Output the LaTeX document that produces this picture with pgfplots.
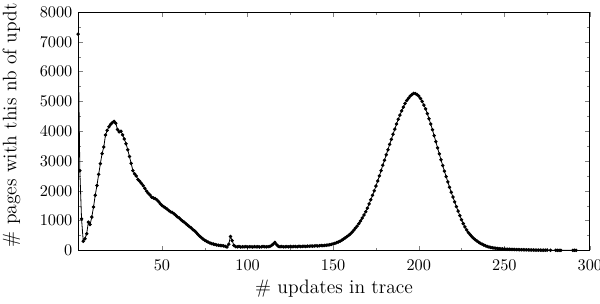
\documentclass[border=0pt]{standalone}
\usepackage{pgfplots}
\pgfplotsset{compat=1.18}
\usetikzlibrary{calc}
\begin{document}
\begin{tikzpicture}
\begin{axis}[
  name=ax,
  scale only axis,
  width=314.5pt, height=146.5pt,
  xmin=1, xmax=300, ymin=0, ymax=8000,
  xtick={50,100,150,200,250,300},
  ytick={0,1000,2000,3000,4000,5000,6000,7000,8000},
  minor x tick num=1, minor y tick num=1,
  tick align=inside, tick pos=both,
  major tick length=3pt, minor tick length=1.8pt,
  scaled y ticks=false,
  yticklabel style={/pgf/number format/1000 sep={}},
  xticklabel style={yshift=-2.5pt},
  ticklabel style={font=\fontsize{10.3}{12}\selectfont},
  label style={font=\fontsize{12}{14}\selectfont},
  xlabel={\# updates in trace},
  ylabel={\# pages with this nb of updt},
  xlabel style={at={(axis description cs:0.5,0)}, anchor=center, yshift=-23.5pt},
  ylabel style={at={(axis description cs:-0.13,0.525)}, anchor=center},
  axis line style={line width=0.6pt},
]
\addplot[black, line width=0.5pt, mark=*, mark size=0.8pt] table[x index=0, y index=1] {
1 7260
2 2680
3 1060
4 310
5 390
6 560
7 950
8 870
9 1120
10 1460
11 1850
12 2180
13 2550
14 2910
15 3250
16 3470
17 3870
18 4030
19 4150
20 4230
21 4290
22 4330
23 4270
24 4060
25 3980
26 4000
27 3880
28 3740
29 3580
30 3380
31 3150
32 2920
33 2680
34 2570
35 2500
36 2380
37 2320
38 2250
39 2170
40 2080
41 1990
42 1920
43 1860
44 1790
45 1760
46 1740
47 1700
48 1640
49 1570
50 1510
51 1470
52 1430
53 1390
54 1340
55 1300
56 1270
57 1230
58 1180
59 1130
60 1090
61 1040
62 990
63 950
64 900
65 850
66 800
67 760
68 700
69 660
70 600
71 540
72 480
73 430
74 380
75 340
76 310
77 280
78 250
79 230
80 215
81 200
82 185
83 175
84 165
85 160
86 150
87 135
88 115
89 210
90 470
91 330
92 170
93 130
94 120
95 130
96 115
97 125
98 120
99 130
100 115
101 125
102 120
103 115
104 130
105 120
106 125
107 115
108 120
109 130
110 125
111 120
112 125
113 135
114 170
115 220
116 270
117 190
118 140
119 125
120 130
121 120
122 125
123 130
124 120
125 135
126 125
127 130
128 135
129 125
130 140
131 130
132 135
133 140
134 130
135 145
136 140
137 150
138 145
139 150
140 155
141 150
142 160
143 165
144 160
145 170
146 175
147 180
148 190
149 205
150 220
151 240
152 260
153 285
154 310
155 340
156 380
157 420
158 460
159 505
160 550
161 610
162 680
163 750
164 820
165 900
166 990
167 1090
168 1190
169 1300
170 1420
171 1560
172 1700
173 1850
174 2000
175 2160
176 2330
177 2500
178 2680
179 2860
180 3030
181 3210
182 3380
183 3560
184 3730
185 3900
186 4070
187 4240
188 4400
189 4540
190 4680
191 4810
192 4930
193 5030
194 5110
195 5180
196 5230
197 5270
198 5260
199 5230
200 5180
201 5100
202 5000
203 4880
204 4750
205 4590
206 4420
207 4240
208 4050
209 3850
210 3650
211 3440
212 3240
213 3040
214 2850
215 2660
216 2480
217 2300
218 2120
219 1950
220 1790
221 1630
222 1470
223 1320
224 1170
225 1030
226 900
227 790
228 690
229 600
230 530
231 470
232 410
233 360
234 315
235 275
236 240
237 210
238 180
239 155
240 135
241 115
242 100
243 90
244 80
245 72
246 65
247 60
248 55
249 50
250 45
251 42
252 40
253 37
254 35
255 33
256 31
257 29
258 28
259 26
260 25
261 24
262 22
263 20
264 19
265 18
266 16
267 15
268 14
269 13
270 12
271 11
272 10
273 9
274 8
275 8
277 6
280 5
281 5
282 5
283 4
290 3
291 3
292 3
};
\end{axis}
\pgfresetboundingbox
\path[use as bounding box] ($(ax.south west)+(-48pt,-32.6pt)$) rectangle ($(ax.north east)+(6.2pt,7.4pt)$);
\end{tikzpicture}
\end{document}
